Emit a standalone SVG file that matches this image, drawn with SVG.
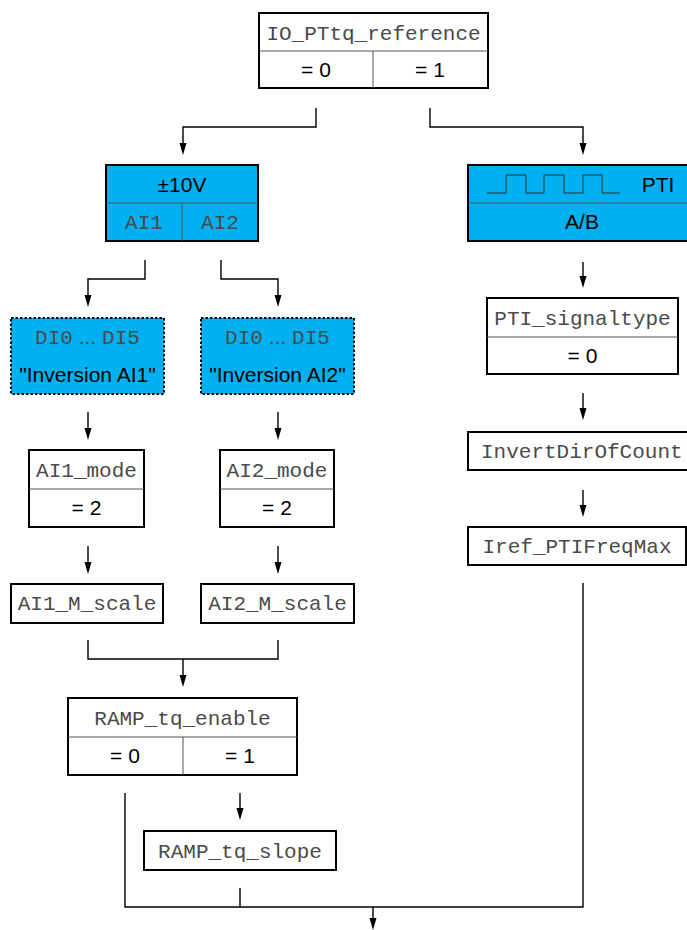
<svg xmlns="http://www.w3.org/2000/svg" width="687" height="930" viewBox="0 0 687 930">
<defs>
<style>
.box{fill:#fff;stroke:#000;stroke-width:2}
.blue{fill:#00b0f0;stroke:#000;stroke-width:2}
.dot{fill:#00b0f0;stroke:#000;stroke-width:2;stroke-dasharray:2.5,2}
.div{stroke:#555;stroke-width:1;fill:none}
.mono{font-family:"Liberation Mono",monospace;font-size:21px;fill:#4a4a4a;text-anchor:middle}
.sans{font-family:"Liberation Sans",Arial,sans-serif;font-size:21px;fill:#000;text-anchor:middle}
.con{fill:none;stroke:#000;stroke-width:1.4}
</style>
</defs>

<g id="connectors">
<path class="con" d="M316,108 V127 H183 V145"/>
<path d="M179.5,143 L186.5,143 L183,155 Z"/>
<path class="con" d="M430,108 V127 H583 V145"/>
<path d="M579.5,143 L586.5,143 L583,155 Z"/>
<path class="con" d="M145,260 V279 H88 V297"/>
<path d="M84.5,295 L91.5,295 L88,307 Z"/>
<path class="con" d="M221,260 V279 H278 V297"/>
<path d="M274.5,295 L281.5,295 L278,307 Z"/>
<path class="con" d="M88,412 V430"/>
<path d="M84.5,428 L91.5,428 L88,440 Z"/>
<path class="con" d="M278,412 V430"/>
<path d="M274.5,428 L281.5,428 L278,440 Z"/>
<path class="con" d="M88,546 V564"/>
<path d="M84.5,562 L91.5,562 L88,574 Z"/>
<path class="con" d="M278,546 V564"/>
<path d="M274.5,562 L281.5,562 L278,574 Z"/>
<path class="con" d="M88,640 V659 H278 V640 M183,659 V677"/>
<path d="M179.5,675 L186.5,675 L183,687 Z"/>
<path class="con" d="M240,793 V810"/>
<path d="M236.5,808 L243.5,808 L240,820 Z"/>
<path class="con" d="M125,793 V907 H583 V583 M240,888 V907 M373,907 V920"/>
<path d="M369.5,918 L376.5,918 L373,930 Z"/>
<path class="con" d="M583,262 V278"/>
<path d="M579.5,276 L586.5,276 L583,288 Z"/>
<path class="con" d="M583,393 V410"/>
<path d="M579.5,408 L586.5,408 L583,420 Z"/>
<path class="con" d="M583,490 V507"/>
<path d="M579.5,505 L586.5,505 L583,517 Z"/>
</g>

<g id="io_pttq_reference">
<rect class="box" x="259" y="13" width="229" height="75"/>
<path class="div" d="M259,51 H488 M373,51 V88"/>
<text class="mono" x="373.5" y="40">IO_PTtq_reference</text>
<text class="sans" x="316" y="77">= 0</text>
<text class="sans" x="430" y="77">= 1</text>
</g>

<g id="pm10v">
<rect class="blue" x="106" y="165" width="152" height="76"/>
<path class="div" d="M106,203 H258 M182,203 V241"/>
<text class="sans" x="182" y="192">±10V</text>
<text class="mono" x="144" y="229">AI1</text>
<text class="mono" x="220" y="229">AI2</text>
</g>

<g id="pti">
<rect class="blue" x="468" y="165" width="230" height="76"/>
<path class="div" d="M468,203 H698"/>
<path fill="none" stroke="#333" stroke-width="1" d="M487,193 H506 V175 H526 V193 H544 V175 H564 V193 H583 V175 H602 V193 H620"/>
<text class="sans" x="658" y="192">PTI</text>
<text class="sans" x="582" y="229">A/B</text>
</g>

<g id="di_ai1">
<rect class="dot" x="11" y="318" width="153" height="76"/>
<text class="mono" x="87.5" y="344"><tspan>DI0</tspan><tspan font-family="Liberation Sans,Arial,sans-serif"> ... </tspan><tspan>DI5</tspan></text>
<text class="sans" x="87.5" y="382">"Inversion AI1"</text>
</g>

<g id="di_ai2">
<rect class="dot" x="201" y="318" width="153" height="76"/>
<text class="mono" x="277.5" y="344"><tspan>DI0</tspan><tspan font-family="Liberation Sans,Arial,sans-serif"> ... </tspan><tspan>DI5</tspan></text>
<text class="sans" x="277.5" y="382">"Inversion AI2"</text>
</g>

<g id="ai1_mode">
<rect class="box" x="29" y="450" width="115" height="77"/>
<path class="div" d="M29,489 H144"/>
<text class="mono" x="86.5" y="477">AI1_mode</text>
<text class="sans" x="86.5" y="515">= 2</text>
</g>

<g id="ai2_mode">
<rect class="box" x="220" y="450" width="114" height="77"/>
<path class="div" d="M220,489 H334"/>
<text class="mono" x="277" y="477">AI2_mode</text>
<text class="sans" x="277" y="515">= 2</text>
</g>

<g id="ai1_m_scale">
<rect class="box" x="11" y="584" width="152" height="39"/>
<text class="mono" x="87" y="610">AI1_M_scale</text>
</g>

<g id="ai2_m_scale">
<rect class="box" x="201" y="584" width="153" height="39"/>
<text class="mono" x="277.5" y="610">AI2_M_scale</text>
</g>

<g id="ramp_tq_enable">
<rect class="box" x="68" y="698" width="229" height="77"/>
<path class="div" d="M68,737 H297 M183,737 V775"/>
<text class="mono" x="182.5" y="725">RAMP_tq_enable</text>
<text class="sans" x="125" y="763">= 0</text>
<text class="sans" x="240" y="763">= 1</text>
</g>

<g id="ramp_tq_slope">
<rect class="box" x="144" y="831" width="192" height="39"/>
<text class="mono" x="240" y="858">RAMP_tq_slope</text>
</g>

<g id="pti_signaltype">
<rect class="box" x="487" y="298" width="191" height="76"/>
<path class="div" d="M487,337 H678"/>
<text class="mono" x="582.5" y="325">PTI_signaltype</text>
<text class="sans" x="582.5" y="363">= 0</text>
</g>

<g id="invertdirofcount">
<rect class="box" x="468" y="432" width="230" height="38"/>
<text class="mono" x="481" y="458" style="text-anchor:start">InvertDirOfCount</text>
</g>

<g id="iref_ptifreqmax">
<rect class="box" x="468" y="527" width="218" height="38"/>
<text class="mono" x="577" y="553">Iref_PTIFreqMax</text>
</g>
</svg>
